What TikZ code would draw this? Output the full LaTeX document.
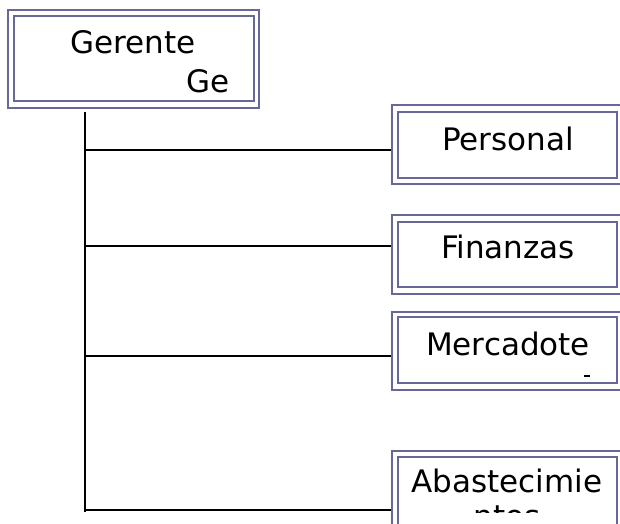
\documentclass[tikz,border=0pt]{standalone}
\usepackage{fontspec}
\setmainfont{DejaVu Sans}
\begin{document}
\begin{tikzpicture}[x=1pt,y=-1pt,
  frame/.style={draw=boxline, line width=1.5pt},
  label/.style={font=\fontsize{31}{37}\selectfont, inner sep=0pt, anchor=base},
  link/.style={draw=black, line width=2pt}]
\definecolor{boxline}{RGB}{104,104,152}
\useasboundingbox (0,0) rectangle (620,523);
\clip (0,0) rectangle (620,523);

% head office box (double frame)
\draw[frame] (8,10) rectangle (259,108);
\draw[frame] (14,16) rectangle (254,101);
\node[label] (ger) at (133,53) {Gerente};
\node[label, anchor=base east] (ger2) at (230,92) {Ge};
\coordinate (top) at (85,112);
\coordinate (bot) at (85,512);

% department boxes: outer frame named, inner frame drawn inside
\node[frame, minimum width=232, minimum height=79, inner sep=0pt] (per) at (508,144.5) {};
\draw[frame] (398,112) rectangle (617,178);
\node[label] (perT) at (508,150) {Personal};

\node[frame, minimum width=232, minimum height=79, inner sep=0pt] (fin) at (508,254.5) {};
\draw[frame] (398,222) rectangle (617,287);
\node[label] (finT) at (508,258) {Finanzas};

\node[frame, minimum width=232, minimum height=78, inner sep=0pt] (mer) at (508,351) {};
\draw[frame] (398,317) rectangle (617,383);
\node[label] (merT) at (508,355) {Mercadote};
\draw[black, line width=1.6pt] (584,376) -- (590,376);

\node[frame, minimum width=232, minimum height=79, inner sep=0pt] (aba) at (508,490.5) {};
\draw[frame] (398,457) rectangle (617,525);
\node[label] (abaT) at (507,492) {Abastecimie};
\begin{scope}
  \clip (398,457) rectangle (617,512);
  \node[label] (abaT2) at (507,527) {ntos};
\end{scope}

% trunk and branches
\draw[link] (top) -- (bot);
\coordinate (b1) at (85,150);
\coordinate (b2) at (85,246);
\coordinate (b3) at (85,356);
\coordinate (b4) at (85,510);
\draw[link] (b1) -- (b1 -| per.west);
\draw[link] (b2) -- (b2 -| fin.west);
\draw[link] (b3) -- (b3 -| mer.west);
\draw[link] (b4) -- (b4 -| aba.west);
\end{tikzpicture}
\end{document}
